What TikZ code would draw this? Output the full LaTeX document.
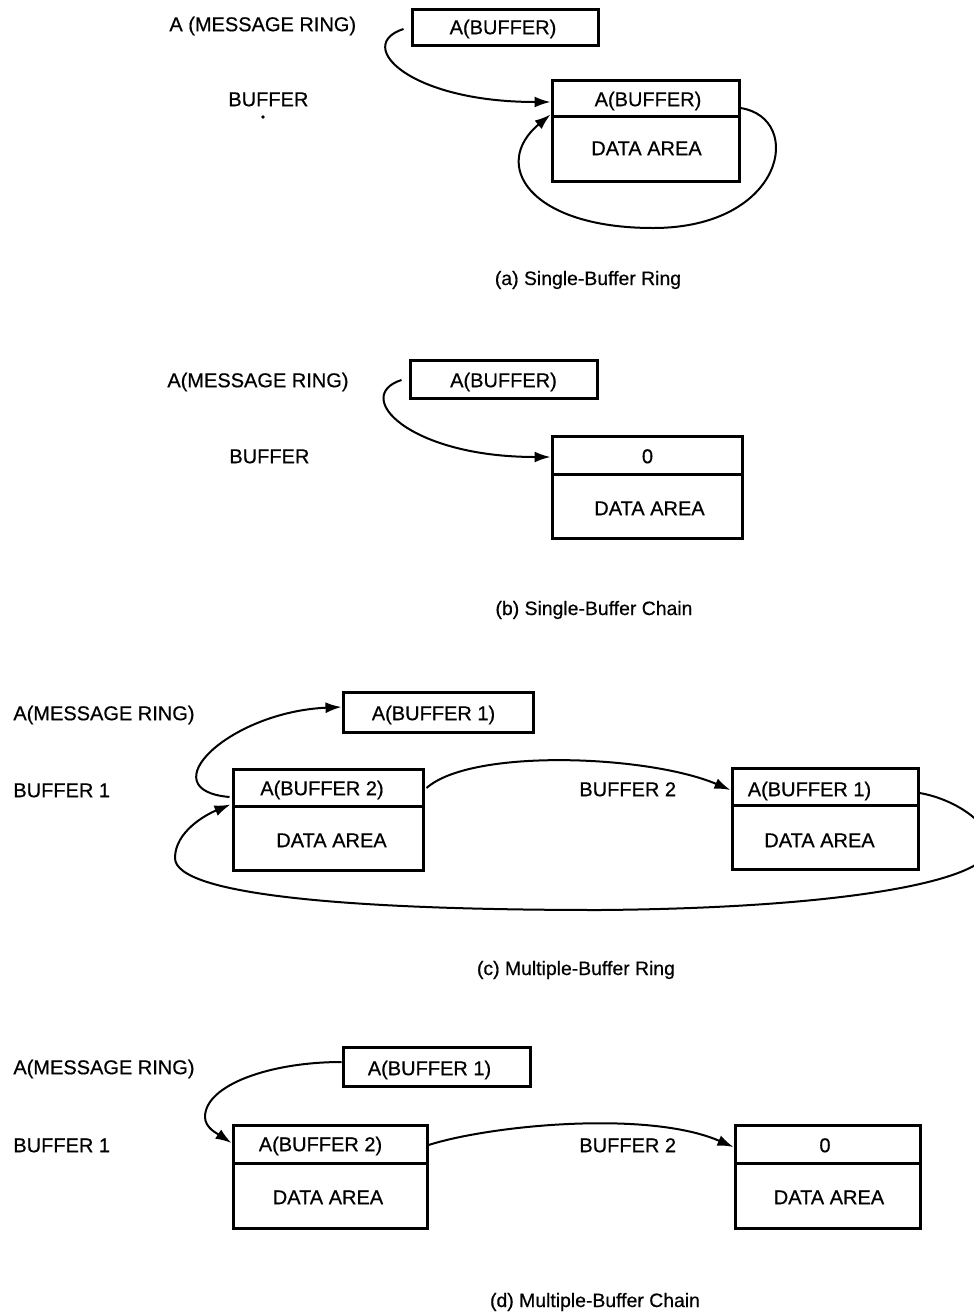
\documentclass[tikz,border=0pt]{standalone}
\usepackage{fontspec}
\setmainfont[FakeBold=0.5]{Liberation Sans}
\usetikzlibrary{arrows.meta,calc}
\begin{document}
\begin{tikzpicture}[x=0.5pt,y=-0.5pt,
  cell/.style={draw, line width=1.5pt, inner sep=0pt},
  lbl/.style={inner sep=0pt, text height=7.2pt, text depth=0pt, font=\fontsize{10}{12}\selectfont},
  txt/.style={lbl},
  captxt/.style={inner sep=0pt, text height=7pt, text depth=0pt, font=\fontsize{9.7}{12}\selectfont},
  conn/.style={line width=1pt, -{Latex[length=8pt,width=5.5pt]}},
  dotn/.style={circle, fill, inner sep=0pt, minimum size=1.8pt}]
\fill[white] (0,0) rectangle (974,1313);
\useasboundingbox (0,0) rectangle (974,1313);

% (a) Single-Buffer Ring
\node[lbl, anchor=west] (aMR) at (169,24) {A (MESSAGE RING)};
\node[cell, minimum width=93pt, minimum height=18pt] (tA) at (505,27) {};
\node[txt] (tAx) at (503,27) {A(BUFFER)};
\node[lbl, anchor=west] (aBF) at (228,99) {BUFFER};
\node[dotn] (aDot) at (263,117) {};
\node[cell, minimum width=93.5pt, minimum height=18pt] (bAt) at (645.5,98) {};
\node[cell, minimum width=93.5pt, minimum height=32.5pt] (bAd) at (645.5,148.5) {};
\node[txt] (bAtx) at (648,99) {A(BUFFER)};
\node[txt] (bAdx) at (646.5,148) {DATA AREA};
\node[captxt] (capA) at (588,278) {(a) Single-Buffer Ring};
\draw[conn] ($(tA.west)+(-7,2)$) .. controls +(-50,16) and +(-142,0) .. ($(bAt.west)+(0,4)$);
\draw[conn] ($(bAt.east)+(0,10)$) .. controls (805,118) and (785,228) .. (653,228)
  .. controls (530,228) and (490,165) .. ($(bAt.south west)+(0,-3)$);

% (b) Single-Buffer Chain
\node[lbl, anchor=west] (bMR) at (167,380) {A(MESSAGE RING)};
\node[cell, minimum width=93.5pt, minimum height=19pt] (tB) at (503.5,379) {};
\node[txt] (tBx) at (503.5,380) {A(BUFFER)};
\node[lbl, anchor=west] (bBF) at (229,456) {BUFFER};
\node[cell, minimum width=95pt, minimum height=19pt] (bBt) at (647,455) {};
\node[cell, minimum width=95pt, minimum height=32pt] (bBd) at (647,506) {};
\node[txt] (bBtx) at (647.5,456) {0};
\node[txt] (bBdx) at (649.5,508) {DATA AREA};
\node[captxt] (capB) at (594,608) {(b) Single-Buffer Chain};
\draw[conn] ($(tB.west)+(-7,1)$) .. controls +(-50,16) and +(-142,0) .. ($(bBt.west)+(0,2)$);

% (c) Multiple-Buffer Ring
\node[lbl, anchor=west] (cMR) at (13,713) {A(MESSAGE RING)};
\node[cell, minimum width=95pt, minimum height=20pt] (tC) at (438,712) {};
\node[txt] (tCx) at (433.5,713) {A(BUFFER 1)};
\node[lbl, anchor=west] (cB1) at (13,790) {BUFFER 1};
\node[cell, minimum width=95pt, minimum height=18.5pt] (c1t) at (328,787.5) {};
\node[cell, minimum width=95pt, minimum height=32pt] (c1d) at (328,838) {};
\node[txt] (c1tx) at (322,788) {A(BUFFER 2)};
\node[txt] (c1dx) at (331.5,840) {DATA AREA};
\node[lbl, anchor=west] (cB2) at (579,789) {BUFFER 2};
\node[cell, minimum width=93pt, minimum height=18.5pt] (c2t) at (825,786.5) {};
\node[cell, minimum width=93pt, minimum height=32pt] (c2d) at (825,837) {};
\node[txt] (c2tx) at (809.5,789) {A(BUFFER 1)};
\node[txt] (c2dx) at (819.5,840) {DATA AREA};
\node[captxt] (capC) at (576,968) {(c) Multiple-Buffer Ring};
\draw[conn] ($(c1t.west)+(-2,9.5)$) .. controls +(-81,-7) and +(-113,5) .. ($(tC.west)+(0,-5)$);
\draw[conn] ($(c1t.east)+(2,0.5)$) .. controls +(45,-40) and +(-82,-35) .. ($(c2t.west)+(0,3.5)$);
\draw[conn] ($(c2t.east)+(0,6.5)$) .. controls (950,798) and (990,820) .. (990,847)
  .. controls (990,880) and (850,908) .. (600,910)
  .. controls (350,910) and (175,895) .. (175,858)
  .. controls (175,832) and (205,815) .. ($(c1t.south west)+(-1,-3)$);

% (d) Multiple-Buffer Chain
\node[lbl, anchor=west] (dMR) at (13,1067) {A(MESSAGE RING)};
\node[cell, minimum width=93.5pt, minimum height=19.5pt] (tD) at (436.5,1066.5) {};
\node[txt] (tDx) at (429.5,1068) {A(BUFFER 1)};
\node[lbl, anchor=west] (dB1) at (13,1145) {BUFFER 1};
\node[cell, minimum width=97pt, minimum height=19pt] (d1t) at (330,1144) {};
\node[cell, minimum width=97pt, minimum height=32.5pt] (d1d) at (330,1195.5) {};
\node[txt] (d1tx) at (320.5,1144) {A(BUFFER 2)};
\node[txt] (d1dx) at (328,1197) {DATA AREA};
\node[lbl, anchor=west] (dB2) at (579,1145) {BUFFER 2};
\node[cell, minimum width=92.5pt, minimum height=19pt] (d2t) at (827.5,1144) {};
\node[cell, minimum width=92.5pt, minimum height=32.5pt] (d2d) at (827.5,1195.5) {};
\node[txt] (d2tx) at (825,1145) {0};
\node[txt] (d2dx) at (829,1197) {DATA AREA};
\node[captxt] (capD) at (595,1300) {(d) Multiple-Buffer Chain};
\draw[conn] ($(tD.west)+(0,-4.5)$) .. controls (270,1062) and (205,1085) .. (205,1117)
  .. controls (205,1128) and (218,1134) .. ($(d1t.west)+(0,-1)$);
\draw[conn] ($(d1t.east)+(0,1)$) .. controls +(63,-20) and +(-85,-37) .. ($(d2t.west)+(0,3)$);
\end{tikzpicture}
\end{document}
